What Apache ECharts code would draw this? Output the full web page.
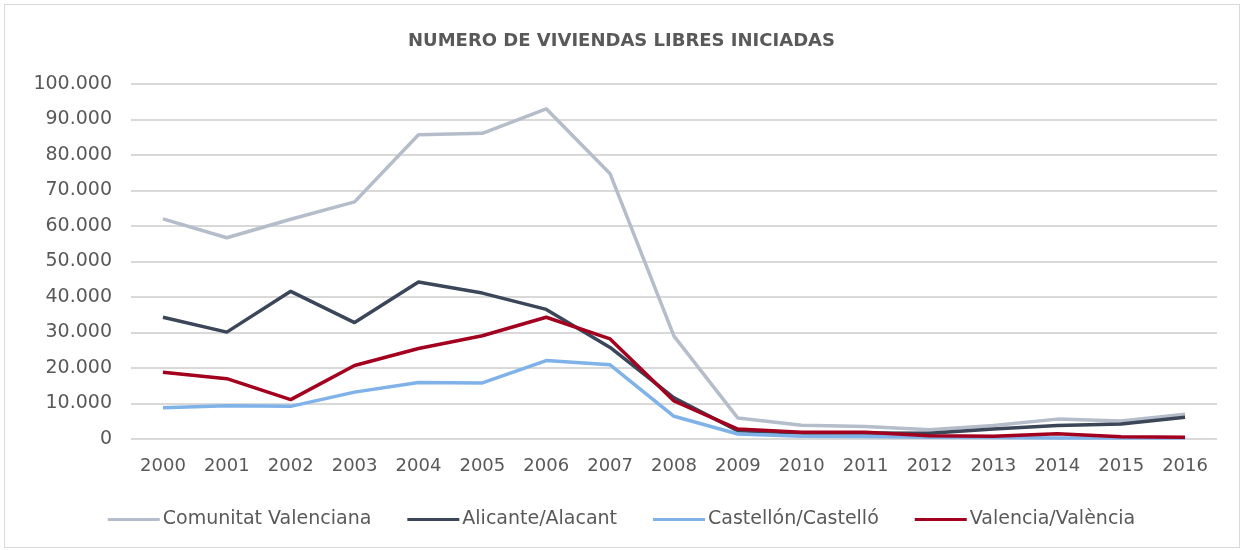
<!DOCTYPE html>
<html>
<head>
<meta charset="utf-8">
<script src="https://cdn.jsdelivr.net/npm/echarts@6/dist/echarts.min.js"></script>
<style>
  html, body { margin: 0; padding: 0; background: #fff; }
  #frame {
    position: absolute; left: 4px; top: 4px;
    width: 1234px; height: 542px;
    border: 1px solid #d9d9d9;
  }
  #chart { position: absolute; left: 0; top: 0; width: 1243px; height: 550px; }
</style>
</head>
<body>
<div id="frame"></div>
<div id="chart"></div>
<script>
const years = ['2000','2001','2002','2003','2004','2005','2006','2007','2008',
  '2009','2010','2011','2012','2013','2014','2015','2016']

const comunitat = [62000, 56700, 61900, 66800, 85700, 86100, 93000, 74700, 29000,
  5900, 3900, 3500, 2600, 3800, 5600, 5100, 7000]
const alicante = [34300, 30100, 41600, 32800, 44200, 41100, 36500, 25800, 11600,
  2300, 1700, 1700, 1600, 2800, 3800, 4200, 6100]
const castellon = [8800, 9400, 9200, 13200, 15900, 15800, 22100, 20900, 6400,
  1400, 800, 700, 500, 400, 300, 300, 300]
const valencia = [18800, 17000, 11100, 20700, 25500, 29100, 34300, 28200, 10700,
  2800, 1900, 1900, 900, 800, 1500, 600, 500]

const names = ['Comunitat Valenciana', 'Alicante/Alacant', 'Castellón/Castelló', 'Valencia/València']
const colors = ['#b5bdca', '#3b4658', '#7fb2e8', '#a3001f']

const textColor = '#595959'
const font = 'DejaVu Sans'

function fmt(v) {
  return String(v).replace(/\B(?=(\d{3})+(?!\d))/g, '.')
}

const chart = echarts.init(document.getElementById('chart'))
chart.setOption({
  animation: false,
  color: colors,
  title: {
    text: 'NUMERO DE VIVIENDAS LIBRES INICIADAS',
    left: 'center',
    top: 27,
    textStyle: { color: textColor, fontSize: 18, fontWeight: 'bold', fontFamily: font },
  },
  legend: {
    bottom: 16,
    left: 'center',
    itemWidth: 52,
    itemHeight: 3,
    itemGap: 36,
    icon: 'rect',
    textStyle: { color: textColor, fontSize: 19, fontFamily: font, padding: [0, 0, 0, -2] },
  },
  grid: { left: 131, right: 26, top: 84, bottom: 111 },
  xAxis: {
    type: 'category',
    data: years,
    boundaryGap: true,
    axisLine: { show: false },
    axisTick: { show: false },
    axisLabel: { color: textColor, fontSize: 18, fontFamily: font, margin: 18 },
  },
  yAxis: {
    type: 'value',
    min: 0,
    max: 100000,
    interval: 10000,
    axisLine: { show: false },
    axisTick: { show: false },
    axisLabel: { color: textColor, fontSize: 19, fontFamily: font, margin: 19, formatter: fmt },
    splitLine: { lineStyle: { color: '#d9d9d9', width: 2 } },
  },
  series: [comunitat, alicante, castellon, valencia].map((d, i) => ({
    name: names[i],
    type: 'line',
    data: d,
    symbol: 'none',
    lineStyle: { width: 3.5, color: colors[i] },
  })),
})
</script>
</body>
</html>
